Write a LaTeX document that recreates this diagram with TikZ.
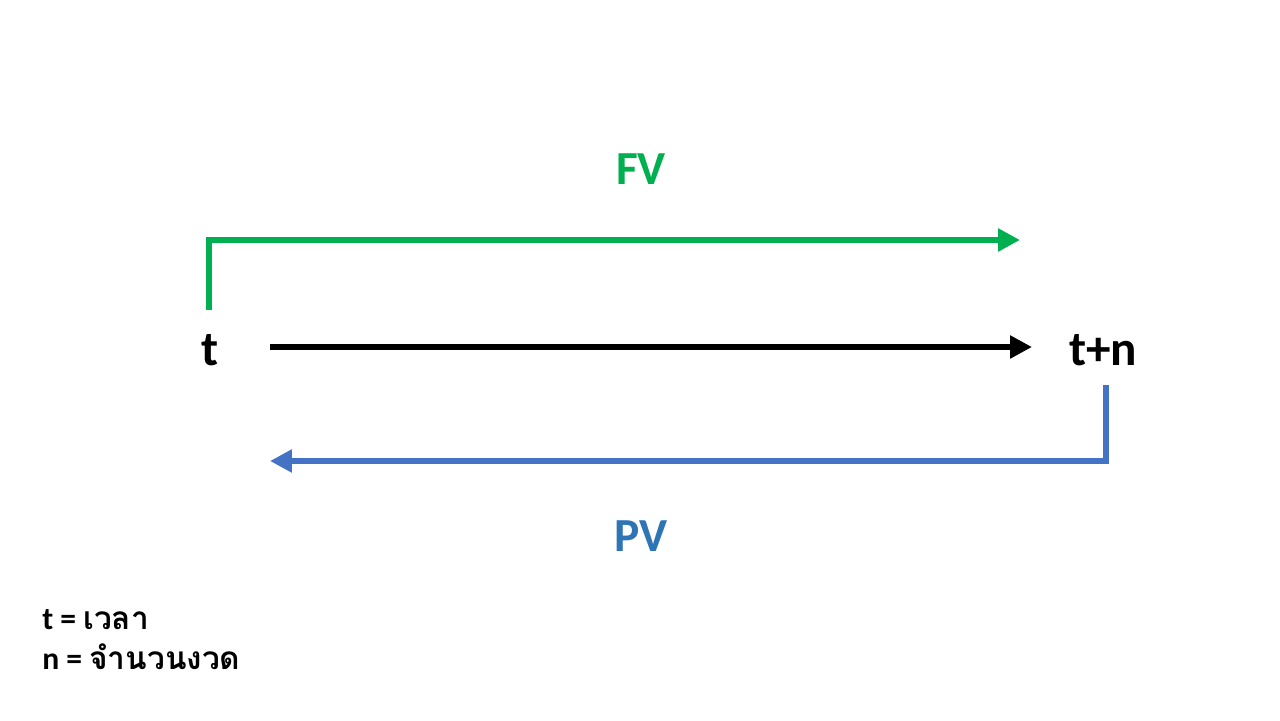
\documentclass[tikz,border=0pt]{standalone}
\usepackage{fontspec}
\setmainfont{Carlito}
\newfontfamily\thaifont[Script=Thai]{Loma}
\usetikzlibrary{arrows.meta,positioning}

\definecolor{fvgreen}{HTML}{00B050}
\definecolor{pvblue}{HTML}{2E75B6}
\definecolor{linkblue}{HTML}{4472C4}

\tikzset{
  flow/.style={line width=3.4pt, -{Triangle[length=12.5pt,width=12.5pt]}},
  timelabel/.style={font=\fontsize{28}{32}\selectfont\bfseries, inner sep=0pt},
  valuelabel/.style={font=\fontsize{27}{30}\selectfont\bfseries, inner sep=0pt},
  legend/.style={font=\fontsize{18}{22}\selectfont\bfseries, inner sep=0pt, anchor=west}
}

\begin{document}
\begin{tikzpicture}[x=0.02cm,y=-0.02cm]
    \useasboundingbox (0,0) rectangle (1280,720);
    \fill[white] (0,0) rectangle (1280,720);

    \node[timelabel] (t) at (210,350) {t};
    \node[timelabel] (tn) at (1103,350) {t+n};

    \coordinate (nowstart) at (270,347);
    \coordinate (nowend) at (1032,347);
    \draw[flow] (nowstart) -- (nowend);

    % future value
    \coordinate (fvbase) at (209,310);
    \coordinate (fvend) at (1020,240);
    \draw[flow, fvgreen] (fvbase) |- (fvend);
    \node[valuelabel, text=fvgreen] (fv) at (641,169) {FV};

    % present value
    \coordinate (pvbase) at (1106,385);
    \coordinate (pvend) at (270,461);
    \draw[flow, linkblue] (pvbase) |- (pvend);
    \node[valuelabel, text=pvblue] (pv) at (641,536) {PV};

    \node[legend] (tkey) at (42,620) {t = {\thaifont เวลา}};
    \node[legend, below=21pt of tkey.west, anchor=west] (nkey) {n = {\thaifont จำนวนงวด}};
  \end{tikzpicture}
\end{document}
